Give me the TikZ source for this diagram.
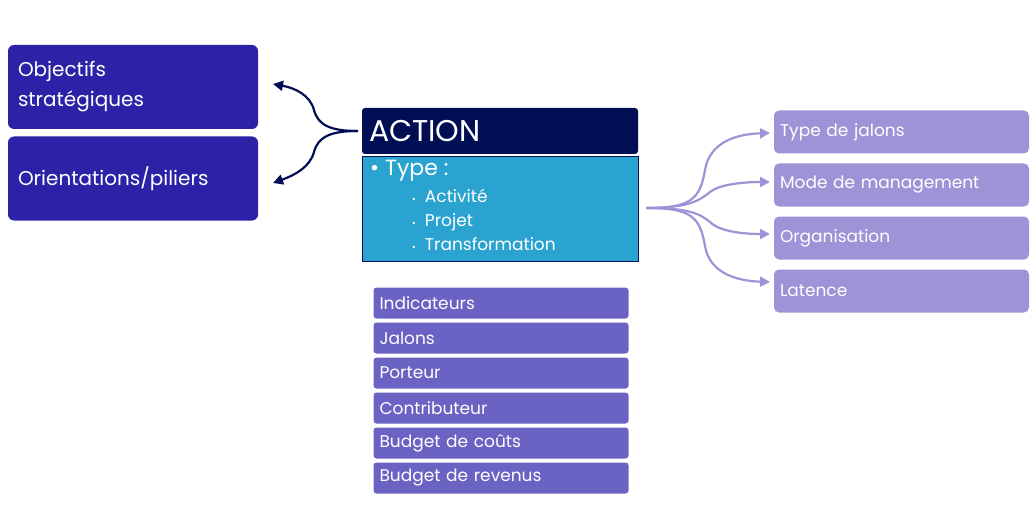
\documentclass[tikz,border=0pt]{standalone}
\usepackage{fontspec}
\setmainfont{Poppins}
\usetikzlibrary{arrows.meta}
\definecolor{darkbox}{RGB}{43,34,168}
\definecolor{navybox}{RGB}{2,14,84}
\definecolor{typebox}{RGB}{43,163,208}
\definecolor{listbox}{RGB}{107,99,196}
\definecolor{sidebox}{RGB}{157,148,216}
\tikzset{
  pilier/.style={fill=darkbox, rounded corners=6pt, minimum width=250pt, minimum height=84pt, text=white, align=left, text width=230pt, inner sep=0pt, font=\fontsize{20}{30}\selectfont},
  champ/.style={fill=listbox, rounded corners=3pt, minimum width=255pt, minimum height=31pt, text=white, text width=243pt, inner sep=0pt, font=\fontsize{17}{20}\selectfont},
  attribut/.style={fill=sidebox, rounded corners=5pt, minimum width=255pt, minimum height=43pt, text=white, text width=243pt, inner sep=0pt, font=\fontsize{17}{20}\selectfont},
  fleche/.style={line width=2.2pt, -{Triangle[length=10pt,width=10pt]}},
}
\begin{document}
\begin{tikzpicture}[x=1pt,y=-1pt]
\useasboundingbox (0,0) rectangle (1031,508);
% piliers
\node[pilier] (obj) at (133,87) {Objectifs\\stratégiques};
\node[pilier] (ori) at (133,178.5) {Orientations/piliers};
% action
\node[fill=navybox, rounded corners=3pt, minimum width=276pt, minimum height=46pt, text=white, text width=262pt, inner sep=0pt, font=\fontsize{30}{34}\selectfont] (action) at (500,131) {ACTION};
\node[fill=typebox, draw=navybox, line width=0.8pt, minimum width=276pt, minimum height=105pt, inner sep=0pt] (type) at (500,208.5) {};
\node[anchor=north west, text=white, inner sep=0pt, align=left, font=\fontsize{22}{24}\selectfont] (typelbl) at (370,160) {\textbullet\ Type :};
\node[anchor=north west, text=white, inner sep=0pt, align=left, font=\fontsize{17}{24}\selectfont] (types) at (412,189)
  {{\small\textbullet}\ \ Activité\\{\small\textbullet}\ \ Projet\\{\small\textbullet}\ \ Transformation};
% champs
\foreach \t [count=\i] in {Indicateurs, Jalons, Porteur, Contributeur, Budget de coûts, Budget de revenus}
  \node[champ] (champ\i) at (501,268+35*\i) {\t};
% attributs
\foreach \t [count=\i] in {Type de jalons, Mode de management, Organisation, Latence}
  \node[attribut] (attr\i) at (901.5,79+53*\i) {\t};
% fleches
\coordinate (gauche) at (358,131);
\coordinate (droite) at (646,208);
\draw[fleche, navybox] (gauche) .. controls (330,131) and (318,125) .. (314,110) .. controls (310,95) and (295,88) .. (273,84);
\draw[fleche, navybox] (gauche) .. controls (330,131) and (318,137) .. (314,152) .. controls (310,167) and (295,175) .. (273,183);
\draw[fleche, sidebox] (droite) .. controls (690,208) and (700,200) .. (705,170) .. controls (710,140) and (740,134) .. (770,133);
\draw[fleche, sidebox] (droite) .. controls (690,208) and (700,200) .. (710,192) .. controls (720,184) and (745,182) .. (770,182);
\draw[fleche, sidebox] (droite) .. controls (690,208) and (700,214) .. (710,222) .. controls (720,232) and (745,234) .. (770,234);
\draw[fleche, sidebox] (droite) .. controls (690,208) and (700,216) .. (705,246) .. controls (710,275) and (740,281) .. (770,282);
\end{tikzpicture}
\end{document}
